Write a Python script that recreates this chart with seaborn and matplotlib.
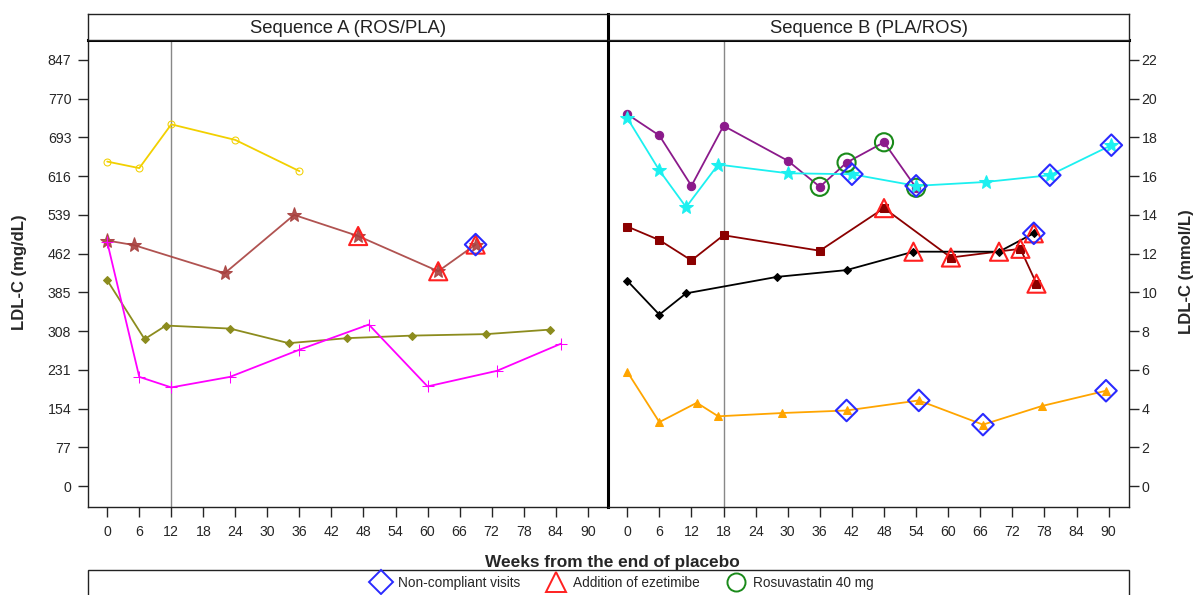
import matplotlib
matplotlib.use("Agg")
import matplotlib.pyplot as plt
import seaborn as sns
import pandas as pd
from matplotlib.lines import Line2D
from matplotlib.patches import Rectangle

# ---------------- data ----------------
# Sequence A (ROS/PLA), LDL-C in mg/dL
a_yellow_wk = [0, 6, 12, 24, 36]
a_yellow_ldl = [645, 632, 719, 688, 626]

a_brown_wk = [0, 5, 22, 35, 47, 62, 69]
a_brown_ldl = [488, 479, 423, 539, 497, 427, 480]
a_brown_ezet = [0, 0, 0, 0, 1, 1, 1]
a_brown_noncomp = [0, 0, 0, 0, 0, 0, 1]

a_olive_wk = [0, 7, 11, 23, 34, 45, 57, 71, 83]
a_olive_ldl = [409, 292, 319, 313, 284, 294, 299, 302, 311]

a_magenta_wk = [0, 6, 12, 23, 36, 49, 60, 73, 85]
a_magenta_ldl = [485, 217, 196, 217, 271, 321, 198, 229, 283]

# Sequence B (PLA/ROS), LDL-C in mmol/L
b_purple_wk = [0, 6, 12, 18, 30, 36, 41, 48, 54]
b_purple_ldl = [19.2, 18.1, 15.5, 18.6, 16.8, 15.45, 16.7, 17.75, 15.4]
b_purple_rosu = [0, 0, 0, 0, 0, 1, 1, 1, 1]

b_cyan_wk = [0, 6, 11, 17, 30, 42, 54, 67, 79, 90.5]
b_cyan_ldl = [19.0, 16.3, 14.4, 16.6, 16.15, 16.1, 15.5, 15.7, 16.05, 17.6]
b_cyan_noncomp = [0, 0, 0, 0, 0, 1, 1, 0, 1, 1]

b_maroon_wk = [0, 6, 12, 18, 36, 48, 60.5, 73.5, 76.5]
b_maroon_ldl = [13.4, 12.7, 11.65, 12.95, 12.15, 14.35, 11.8, 12.25, 10.45]
b_maroon_ezet = [0, 0, 0, 0, 0, 1, 1, 1, 1]

b_black_wk = [0, 6, 11, 28, 41, 53.5, 69.5, 76]
b_black_ldl = [10.6, 8.85, 9.95, 10.8, 11.15, 12.1, 12.1, 13.05]
b_black_ezet = [0, 0, 0, 0, 0, 1, 1, 1]
b_black_noncomp = [0, 0, 0, 0, 0, 0, 0, 1]

b_orange_wk = [0, 6, 13, 17, 29, 41, 54.5, 66.5, 77.5, 89.5]
b_orange_ldl = [5.9, 3.3, 4.3, 3.6, 3.77, 3.9, 4.42, 3.17, 4.13, 4.92]
b_orange_noncomp = [0, 0, 0, 0, 0, 1, 1, 1, 0, 1]

x_ticks = list(range(0, 91, 6))
mg_ticks = [0, 77, 154, 231, 308, 385, 462, 539, 616, 693, 770, 847]
mmol_ticks = list(range(0, 23, 2))
ref_week_a = 12
ref_week_b = 18

# ---------------- style ----------------
sns.set_style("ticks")
plt.rcParams["font.family"] = ["Liberation Sans", "DejaVu Sans"]
plt.rcParams["axes.linewidth"] = 1.0
plt.rcParams["axes.edgecolor"] = "#222222"

W, H = 1194, 595
fig = plt.figure(figsize=(W / 100, H / 100), dpi=100)

def fx(px):
    return px / W

def fy(py):
    return 1 - py / H

x0A, x1A, x1B = 88, 608, 1129
yT, yB, yH = 40, 507, 14
axA = fig.add_axes([fx(x0A), fy(yB), fx(x1A - x0A), (yB - yT) / H])
axB = fig.add_axes([fx(x1A), fy(yB), fx(x1B - x1A), (yB - yT) / H])
hA = fig.add_axes([fx(x0A), fy(yT), fx(x1A - x0A), (yT - yH) / H])
hB = fig.add_axes([fx(x1A), fy(yT), fx(x1B - x1A), (yT - yH) / H])

mg_lim = (-41.7, 886.7)
mmol_lim = (mg_lim[0] / 38.5, mg_lim[1] / 38.5)
xlim = (-3.6, 93.8)

def series(ax, wk, val, color, marker, ms, mfc=None, lw=1.3, alpha=1.0):
    df = pd.DataFrame({"wk": wk, "val": val})
    sns.lineplot(data=df, x="wk", y="val", ax=ax, color=color, sort=False,
                 estimator=None, lw=lw, marker=marker, markersize=ms,
                 markerfacecolor=(mfc if mfc is not None else color),
                 markeredgecolor=color, alpha=alpha, legend=False)

def overlay(ax, wk, val, flags, kind):
    sel = [i for i, f in enumerate(flags) if f]
    if not sel:
        return
    df = pd.DataFrame({"wk": [wk[i] for i in sel], "val": [val[i] for i in sel]})
    if kind == "noncomp":
        m, c, s = "D", "#2a2aff", 120
    elif kind == "ezet":
        m, c, s = "^", "#ff2020", 170
    else:
        m, c, s = "o", "#1a8a1a", 170
    sns.scatterplot(data=df, x="wk", y="val", ax=ax, marker=m, s=s,
                    facecolors="none", edgecolors=c, linewidths=1.5,
                    legend=False, zorder=5)

# Sequence A
series(axA, a_yellow_wk, a_yellow_ldl, "#f2d000", "o", 5, mfc="none")
series(axA, a_brown_wk, a_brown_ldl, "#a8403e", "*", 11, alpha=0.9)
series(axA, a_olive_wk, a_olive_ldl, "#8c8c1e", "D", 4)
series(axA, a_magenta_wk, a_magenta_ldl, "#ff00ff", "+", 8)
overlay(axA, a_brown_wk, a_brown_ldl, a_brown_ezet, "ezet")
overlay(axA, a_brown_wk, a_brown_ldl, a_brown_noncomp, "noncomp")

# Sequence B
series(axB, b_purple_wk, b_purple_ldl, "#8b1a8b", "o", 6)
series(axB, b_cyan_wk, b_cyan_ldl, "#1cf0f0", "*", 10)
series(axB, b_maroon_wk, b_maroon_ldl, "#8b0000", "s", 6)
series(axB, b_black_wk, b_black_ldl, "#000000", "D", 4.5)
series(axB, b_orange_wk, b_orange_ldl, "#ffa500", "^", 6)
overlay(axB, b_purple_wk, b_purple_ldl, b_purple_rosu, "rosu")
overlay(axB, b_maroon_wk, b_maroon_ldl, b_maroon_ezet, "ezet")
overlay(axB, b_black_wk, b_black_ldl, b_black_ezet, "ezet")
overlay(axB, b_cyan_wk, b_cyan_ldl, b_cyan_noncomp, "noncomp")
overlay(axB, b_black_wk, b_black_ldl, b_black_noncomp, "noncomp")
overlay(axB, b_orange_wk, b_orange_ldl, b_orange_noncomp, "noncomp")

axA.axvline(ref_week_a, color="#888888", lw=1.0, zorder=0)
axB.axvline(ref_week_b, color="#888888", lw=1.0, zorder=0)

tick_fs = 10.2
for ax in (axA, axB):
    ax.set_xlim(*xlim)
    ax.set_xticks(x_ticks)
    ax.set_xlabel("")
    ax.set_ylabel("")
    ax.tick_params(axis="x", length=7, width=1, labelsize=tick_fs, pad=6)
    for s in ("top", "left", "right", "bottom"):
        ax.spines[s].set_visible(True)
    ax.spines["top"].set_linewidth(2.2)
    ax.spines["top"].set_color("black")

axA.set_ylim(*mg_lim)
axA.set_yticks(mg_ticks)
axA.tick_params(axis="y", length=7, width=1, labelsize=tick_fs, pad=5)
axA.spines["right"].set_visible(False)

axB.set_ylim(*mmol_lim)
axB.set_yticks(mmol_ticks)
axB.yaxis.tick_right()
axB.tick_params(axis="y", which="both", left=False, right=True, labelleft=False,
                labelright=True, length=7, width=1, labelsize=tick_fs, pad=2)
axB.spines["left"].set_linewidth(2.2)
axB.spines["left"].set_color("black")

for hax, title in ((hA, "Sequence A (ROS/PLA)"), (hB, "Sequence B (PLA/ROS)")):
    hax.set_xticks([])
    hax.set_yticks([])
    hax.set_xlim(0, 1)
    hax.set_ylim(0, 1)
    hax.text(0.5, 0.45, title, ha="center", va="center", fontsize=13.3, color="#222222")
hB.spines["left"].set_linewidth(2.2)
hB.spines["left"].set_color("black")

fig.text(fx(20), fy(272), "LDL-C (mg/dL)", rotation=90, ha="center", va="center",
         fontsize=12, fontweight="bold")
fig.text(fx(1186), fy(272), "LDL-C (mmol/L)", rotation=90, ha="center", va="center",
         fontsize=12, fontweight="bold")
fig.text(fx(612), fy(562), "Weeks from the end of placebo", ha="center", va="center",
         fontsize=12.4, fontweight="bold")

fig.patches.append(Rectangle((fx(x0A), -0.02), fx(x1B - x0A), fy(570) + 0.02,
                             transform=fig.transFigure, fill=False,
                             edgecolor="#222222", lw=1.0))
handles = [
    Line2D([], [], ls="none", marker="D", ms=12, mfc="none", mec="#2a2aff", mew=1.4),
    Line2D([], [], ls="none", marker="^", ms=14, mfc="none", mec="#ff2020", mew=1.4),
    Line2D([], [], ls="none", marker="o", ms=13, mfc="none", mec="#1a8a1a", mew=1.4),
]
labels = ["Non-compliant visits", "Addition of ezetimibe", "Rosuvastatin 40 mg"]
fig.legend(handles, labels, loc="center", bbox_to_anchor=(fx(622), fy(583)),
           ncol=3, frameon=False, fontsize=9.8, handletextpad=0.5,
           columnspacing=1.9, handlelength=1.5, borderpad=0)

fig.savefig("out.png", dpi=100)
